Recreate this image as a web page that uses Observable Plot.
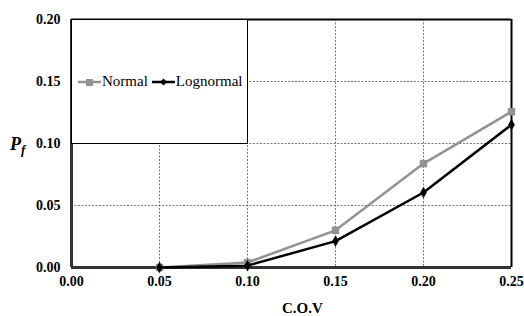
<!DOCTYPE html>
<html><head><meta charset="utf-8">
<script src="https://cdn.jsdelivr.net/npm/d3@7"></script>
<script src="https://cdn.jsdelivr.net/npm/@observablehq/plot@0.6"></script>
<style>
body{margin:0;background:#fff;}
#wrap{position:relative;width:524px;height:316px;}
#wrap svg text{font-family:"Liberation Serif",serif;}
#legend{position:absolute;background:#fff;border:1px solid #000;box-sizing:border-box;font-family:"Liberation Serif",serif;font-size:15px;display:flex;align-items:center;}
#legend svg{overflow:visible}
</style>
</head><body>
<div id="wrap"></div>
<script>
const cov = [0.05, 0.10, 0.15, 0.20, 0.25];
const normal = [0.0, 0.004, 0.030, 0.0838, 0.1257];
const lognormal = [0.0, 0.0015, 0.0213, 0.0605, 0.1152];
const xTicks = [0.00, 0.05, 0.10, 0.15, 0.20, 0.25];
const yTicks = [0.00, 0.05, 0.10, 0.15, 0.20];
const seriesNames = ["Normal", "Lognormal"];
const colors = {Normal: "#929292", Lognormal: "#000000"};

const data = [];
cov.forEach((c, i) => {
  data.push({cov: c, pf: normal[i], s: "Normal"});
  data.push({cov: c, pf: lognormal[i], s: "Lognormal"});
});
const nData = data.filter(d => d.s === "Normal");
const lData = data.filter(d => d.s === "Lognormal");

const W = 524, H = 316;
const serif = "Liberation Serif";
const chart = Plot.plot({
  width: W, height: H,
  marginLeft: 71, marginRight: 13, marginTop: 19, marginBottom: 49,
  style: {fontFamily: "'Liberation Serif', serif", fontSize: "13px", fontWeight: "bold", color: "#000", background: "#fff"},
  x: {domain: [0, 0.25], ticks: xTicks, tickFormat: d3.format(".2f"), label: null},
  y: {domain: [0, 0.20], ticks: yTicks, tickFormat: d3.format(".2f"), label: null},
  marks: [
    Plot.gridX(xTicks.slice(1, -1), {stroke: "#555", strokeOpacity: 1, strokeDasharray: "2,1.5", strokeWidth: 0.8}),
    Plot.gridY(yTicks.slice(1, -1), {stroke: "#555", strokeOpacity: 1, strokeDasharray: "2,1.5", strokeWidth: 0.8}),
    Plot.ruleY([0.20], {stroke: "#000", strokeWidth: 2}),
    Plot.ruleX([0.25], {stroke: "#000", strokeWidth: 2}),
    Plot.ruleX([0], {stroke: "#333", strokeWidth: 3}),
    Plot.ruleY([0], {stroke: "#333", strokeWidth: 3}),
    Plot.axisX(xTicks, {tickSize: 0, tickPadding: 9, tickFormat: d3.format(".2f"), fontWeight: "bold", fontSize: 14, fontFamily: serif}),
    Plot.axisY(yTicks, {tickSize: 0, tickPadding: 11, tickFormat: d3.format(".2f"), fontWeight: "bold", fontSize: 14, fontFamily: serif}),
    Plot.line(nData, {x: "cov", y: "pf", stroke: colors.Normal, strokeWidth: 2.5}),
    Plot.dot(nData, {x: "cov", y: "pf", symbol: "square", r: 4.2, fill: colors.Normal, stroke: "none"}),
    Plot.line(lData, {x: "cov", y: "pf", stroke: colors.Lognormal, strokeWidth: 2.5}),
    Plot.dot(lData, {x: "cov", y: "pf", symbol: "diamond", r: 3.5, fill: colors.Lognormal, stroke: "none"})
  ]
});
const wrap = document.getElementById("wrap");
wrap.appendChild(chart);

// axis titles
const t1 = document.createElement("div");
t1.style.cssText = "position:absolute;left:10px;top:134px;font-family:'Liberation Serif',serif;font-weight:bold;font-style:italic;font-size:18px;line-height:20px;";
t1.innerHTML = "P<sub style='font-size:13px;vertical-align:-4px'>f</sub>";
wrap.appendChild(t1);
const t2 = document.createElement("div");
t2.style.cssText = "position:absolute;left:282px;top:300px;font-family:'Liberation Serif',serif;font-weight:bold;font-size:15px;line-height:16px;";
t2.textContent = "C.O.V";
wrap.appendChild(t2);

// legend box aligned to scale positions
const sx = chart.scale("x"), sy = chart.scale("y");
const lg = document.createElement("div");
lg.id = "legend";
const lx0 = sx.apply(0), lx1 = sx.apply(0.10), ly0 = sy.apply(0.20), ly1 = sy.apply(0.10);
lg.style.left = (lx0) + "px";
lg.style.top = (ly0) + "px";
lg.style.width = (lx1 - lx0 + 1) + "px";
lg.style.height = (ly1 - ly0 + 1) + "px";
let html = "";
seriesNames.forEach((n, i) => {
  const mk = n === "Normal"
    ? `<rect x="8" y="-3" width="7" height="7" fill="${colors[n]}"/>`
    : `<path d="M11.5,-3.5 L15,0 L11.5,3.5 L8,0Z" fill="${colors[n]}"/>`;
  html += `<svg width="23" height="10" viewBox="0 -5 23 10" style="margin-left:${i ? 4 : 6}px"><line x1="0" x2="23" y1="0" y2="0" stroke="${colors[n]}" stroke-width="2.5"/>${mk}</svg><span style="margin-left:1px">${n}</span>`;
});
lg.innerHTML = html;
wrap.appendChild(lg);
</script>
</body></html>
